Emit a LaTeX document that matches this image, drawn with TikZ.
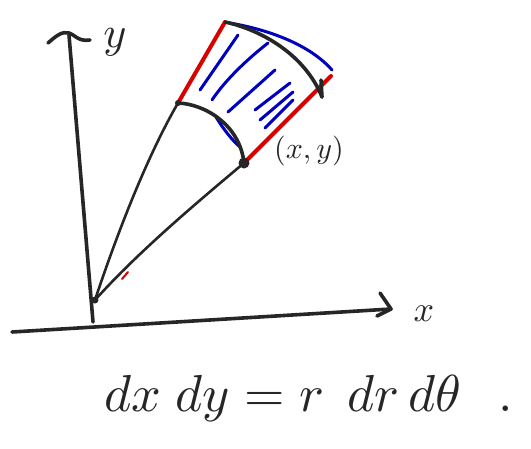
\documentclass[tikz,border=0pt]{standalone}
\usepackage{graphicx}
\usetikzlibrary{calc}
\begin{document}
\begin{tikzpicture}[x=1pt,y=-1pt,
  pen/.style={line width=3.6pt,line cap=round,line join=round,draw=black!85},
  thin pen/.style={line width=2.6pt,line cap=round,line join=round,draw=black!85},
  redpen/.style={line width=4pt,line cap=round,draw=red!85!black},
  bluepen/.style={line width=3pt,line cap=round,draw=blue!75!black},
  lbl/.style={inner sep=0pt,text=black!85}]
\useasboundingbox (0,0) rectangle (531,448);
% coordinates
\coordinate (O) at (95,300);
\coordinate (Ybot) at (93,322);
\coordinate (Ytop) at (69,35);
\coordinate (Xl) at (12,332);
\coordinate (Xr) at (391,309);
\coordinate (A) at (178,103);
\coordinate (B) at (225,22);
\coordinate (C) at (322,97);
\coordinate (P) at (244,163);
% red radial edges
\draw[redpen] (A) -- (B);
\draw[redpen] (P) -- (331,76);
\draw[red!85!black,line width=2pt,line cap=round] (122,279) -- (128,272);
% blue hatching
\draw[bluepen] (230,23) .. controls (270,30) and (310,45) .. (332,70);
\draw[bluepen] (238,35) -- (200,90);
\draw[bluepen] (268,43) .. controls (240,65) and (222,85) .. (212,100);
\draw[bluepen] (275,70) -- (228,112);
\draw[bluepen] (290,83) -- (255,110);
\draw[bluepen] (293,92) -- (260,120);
\draw[bluepen] (293,100) -- (265,128);
\draw[bluepen] (216,117) .. controls (224,130) and (232,140) .. (240,147);
% axes
\draw[pen] (Ybot) -- (Ytop);
\draw[pen] (48,43) .. controls (56,36) and (62,31) .. (69,33) .. controls (74,34) and (78,42) .. (90,40);
\draw[pen] (Xl) -- (Xr);
\draw[pen] (380,293) -- (Xr) -- (377,316);
% rays
\draw[thin pen] (O) .. controls (115,240) and (145,160) .. (A);
\draw[thin pen] (O) .. controls (140,250) and (200,200) .. (P);
% sector arcs
\draw[pen] (A) .. controls (205,104) and (240,125) .. (P);
\draw[pen] (B) .. controls (262,30) and (305,55) .. (C);
\draw[pen] (C) -- (321,80);
\fill[black!85] (P) circle (5.5pt);
\fill[black!85] (A) circle (3pt);
\fill[black!85] (O) circle (3.5pt);
% labels
\node[lbl] (ylab) at (115,42) {\scalebox{4.4}{$y$}};
\node[lbl] (xlab) at (424,314) {\scalebox{3.6}{$x$}};
\node[lbl] (plab) at (309,151) {\scalebox{3}{$(x,y)$}};
\node[lbl] (eq) at (309,398) {\scalebox{5.2}{$dx\;dy \;{=}\; r\;\,dr\,d\theta\;\;\,.$}};
\end{tikzpicture}
\end{document}
